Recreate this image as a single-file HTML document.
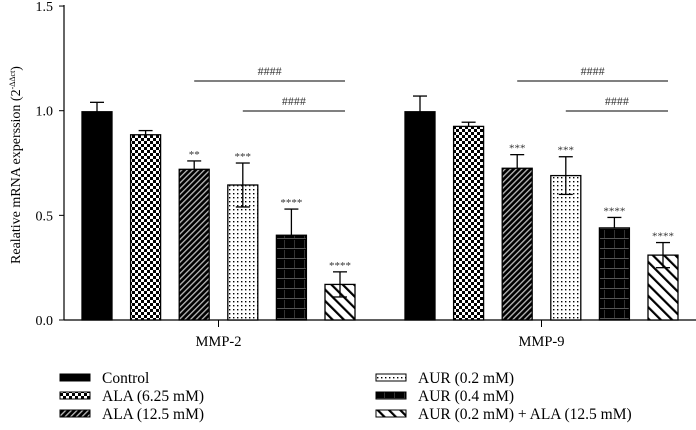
<!DOCTYPE html>
<html><head><meta charset="utf-8"><style>
body{margin:0;background:#fff}
svg{display:block;font-family:"Liberation Serif",serif}
</style></head><body>
<svg id="c" width="696" height="430" viewBox="0 0 696 430">
<defs>
<pattern id="p1" width="6" height="6" patternUnits="userSpaceOnUse"><rect width="6" height="6" fill="#000"/><rect x="0" y="0" width="3" height="3" fill="#fff"/><rect x="3" y="3" width="3" height="3" fill="#fff"/></pattern>
<pattern id="p2" width="4" height="4" patternUnits="userSpaceOnUse" patternTransform="rotate(45)"><rect width="4" height="4" fill="#000"/><rect width="1.3" height="4" fill="#bbb"/></pattern>
<pattern id="p3" width="4" height="4" patternUnits="userSpaceOnUse"><rect width="4" height="4" fill="#fff"/><rect x="1" y="1" width="1.4" height="1.4" fill="#000"/></pattern>
<pattern id="p4" width="10" height="10" patternUnits="userSpaceOnUse"><rect width="10" height="10" fill="#000"/><rect x="0" y="8" width="10" height="1" fill="#555"/><rect x="4" y="0" width="1" height="8" fill="#333"/></pattern>
<pattern id="p5" width="8" height="8" patternUnits="userSpaceOnUse" patternTransform="rotate(-45)"><rect width="8" height="8" fill="#fff"/><rect width="2.2" height="8" fill="#000"/></pattern>
</defs>
<g id="axes"></g>
<g id="bars"></g>
<g id="legend"></g>
</svg>
<script>
const groups=["MMP-2","MMP-9"];
const seriesNames=["Control","ALA (6.25 mM)","ALA (12.5 mM)","AUR (0.2 mM)","AUR (0.4 mM)","AUR (0.2 mM) + ALA (12.5 mM)"];
const mmp2=[0.995,0.885,0.72,0.645,0.405,0.17];
const mmp9=[0.995,0.925,0.725,0.69,0.44,0.31];
const err2=[0.045,0.02,0.04,0.105,0.125,0.06];
const err9=[0.075,0.02,0.065,0.09,0.05,0.06];
const stars2=["","","**","***","****","****"];
const stars9=["","","***","***","****","****"];
const yTicks=[0,0.5,1.0,1.5];
const fills=["#000","url(#p1)","url(#p2)","url(#p3)","url(#p4)","url(#p5)"];
const NS="http://www.w3.org/2000/svg";
function y(v){return 320-v*209.3;}
const groupStart=[82,405];
function bx(g,i){return groupStart[g]+i*48.6;}
const BW=30;
function mk(tag,attrs,parent,text){const e=document.createElementNS(NS,tag);for(const k in attrs)e.setAttribute(k,attrs[k]);if(text!==undefined)e.textContent=text;parent.appendChild(e);return e;}
const ax=document.getElementById('axes'),bars=document.getElementById('bars'),lg=document.getElementById('legend');
const yl=mk('line',{x1:64,y1:5,x2:64,y2:320,stroke:'#000','stroke-width':1.2},ax);

const xl=mk('line',{x1:64,y1:320,x2:696,y2:320,stroke:'#000','stroke-width':1.2},ax);

yTicks.forEach(t=>{
 mk('line',{x1:59,x2:64,y1:y(t),y2:y(t),stroke:'#000'},ax);
 const tx=mk('text',{x:53,y:y(t)+5,'text-anchor':'end','font-size':14},ax,t.toFixed(1));
 
});
const yt=mk('text',{transform:'translate(20,165) rotate(-90)','text-anchor':'middle','font-size':14},ax);

yt.innerHTML='Realative mRNA experssion (2<tspan font-size="8" dy="-5">-ΔΔct</tspan><tspan dy="5">)</tspan>';
const allV=[mmp2,mmp9],allE=[err2,err9],allS=[stars2,stars9];
groups.forEach((gname,g)=>{
 const cx=(bx(g,0)+bx(g,5)+BW)/2;
 mk('line',{x1:cx,x2:cx,y1:320,y2:327,stroke:'#000'},ax);
 const gl=mk('text',{x:cx,y:346,'text-anchor':'middle','font-size':14.5},ax,gname);
 
 allV[g].forEach((v,i)=>{
  const x=bx(g,i),top=y(v),e=allE[g][i],mid=x+BW/2;
  const r=mk('rect',{x:x,y:top,width:BW,height:320-top,fill:fills[i],stroke:'#000','stroke-width':1.3},bars);
  
  const lowB=(i==3||i==5)?v-e:v;
  mk('line',{x1:mid,x2:mid,y1:y(v+e),y2:y(lowB),stroke:'#000','stroke-width':1.3},bars);
  mk('line',{x1:mid-7,x2:mid+7,y1:y(v+e),y2:y(v+e),stroke:'#000','stroke-width':1.3},bars);
  if(i==3||i==5)mk('line',{x1:mid-7,x2:mid+7,y1:y(v-e),y2:y(v-e),stroke:'#000','stroke-width':1.3},bars);
  if(allS[g][i]){const s=mk('text',{x:mid,y:y(v+e)-3,'text-anchor':'middle','font-size':11,fill:'#333'},bars,allS[g][i]);
   }
 });
 [[2,81],[3,111]].forEach(([from,ly])=>{
  const x1=bx(g,from)+15, x2=bx(g,5)+20;
  mk('line',{x1:x1,x2:x2,y1:ly,y2:ly,stroke:'#000'},bars);
  const h=mk('text',{x:(x1+x2)/2,y:ly-6,'text-anchor':'middle','font-size':12,fill:'#333'},bars,'####');
  
 });
});
seriesNames.forEach((n,i)=>{
 const col=i<3?0:1,row=i%3;
 const sx=col?376:60,sy=374+row*18;
 const g=mk('g',{},lg);
 
 mk('rect',{x:sx,y:sy,width:30,height:7,fill:fills[i],stroke:'#000'},g);
 mk('text',{x:sx+42,y:sy+9,'font-size':15.5},g,n);
});
</script>
</body></html>
